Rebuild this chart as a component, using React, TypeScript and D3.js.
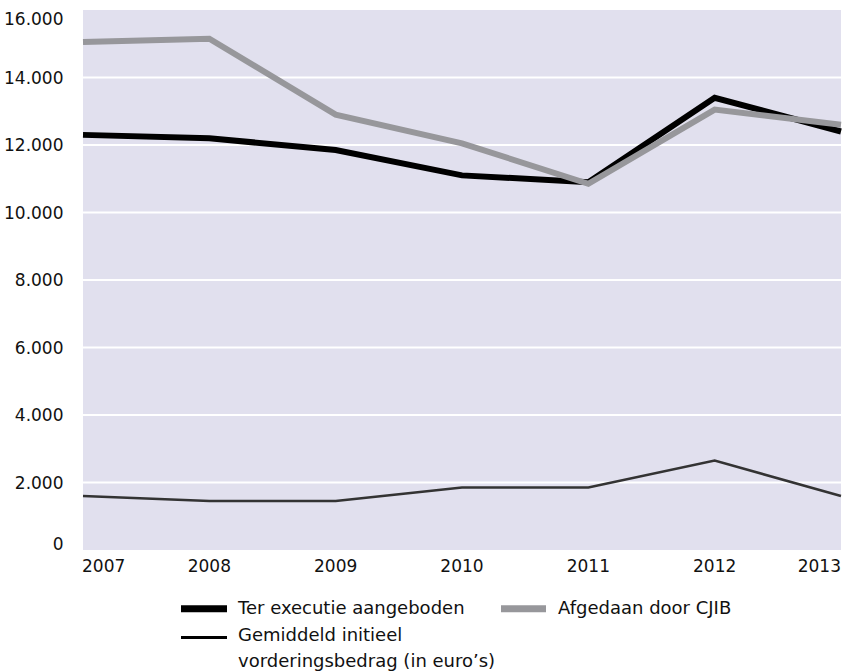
import React from "react";
import * as d3 from "d3";

const years = ["2007", "2008", "2009", "2010", "2011", "2012", "2013"];
const terExecutie = [12300, 12200, 11850, 11100, 10900, 13400, 12400];
const afgedaan = [15050, 15150, 12900, 12050, 10850, 13050, 12600];
const gemiddeld = [1600, 1450, 1450, 1850, 1850, 2650, 1600];
const yTicks = [0, 2000, 4000, 6000, 8000, 10000, 12000, 14000, 16000];

const W = 843;
const H = 672;
const left = 83;
const right = 841;
const top = 10;
const bottom = 550;
const FONT = "'DejaVu Sans', sans-serif";
const FS = 18;
const AXFS = 17;

export default function App() {
  const x = d3.scalePoint<string>().domain(years).range([left, right]);
  const y = d3.scaleLinear().domain([0, 16000]).range([bottom, top]);
  const line = d3
    .line<number>()
    .x((_, i) => x(years[i]) as number)
    .y((d) => y(d));
  const fmt = (v: number) => d3.format(",")(v).replace(/,/g, ".");

  return (
    <svg
      width={W}
      height={H}
      style={{ position: "absolute", left: 0, top: 0, background: "#fff" }}
    >
      <rect x={left} y={top} width={right - left} height={bottom - top} fill="#e1e0ee" />
      {yTicks
        .filter((t) => t > 0 && t < 16000)
        .map((t) => (
          <line key={t} x1={left} x2={right} y1={y(t)} y2={y(t)} stroke="#fff" strokeWidth={2} />
        ))}
      {yTicks.map((t, i) => {
        let yy = y(t) + 6.3;
        if (i === 0) yy = bottom;
        if (i === yTicks.length - 1) yy = 24.5;
        return (
          <text
            key={t}
            x={63.5}
            y={yy}
            textAnchor="end"
            fontFamily={FONT}
            fontSize={AXFS}
            fill="#111"
          >
            {fmt(t)}
          </text>
        );
      })}
      {years.map((yr, i) => {
        const anchor = i === 0 ? "start" : i === years.length - 1 ? "end" : "middle";
        const xx = (x(yr) as number) + (i === 0 ? -1 : 0);
        return (
          <text
            key={yr}
            x={xx}
            y={572}
            textAnchor={anchor}
            fontFamily={FONT}
            fontSize={AXFS}
            fill="#111"
          >
            {yr}
          </text>
        );
      })}
      <path d={line(gemiddeld) || ""} fill="none" stroke="#333" strokeWidth={2.5} />
      <path d={line(terExecutie) || ""} fill="none" stroke="#000" strokeWidth={6} />
      <path d={line(afgedaan) || ""} fill="none" stroke="#97979b" strokeWidth={6} />

      <g fontFamily={FONT} fontSize={FS} fill="#111">
        <line x1={181} x2={227} y1={608.7} y2={608.7} stroke="#000" strokeWidth={7} />
        <text x={238} y={614}>Ter executie aangeboden</text>
        <line x1={501} x2={546} y1={608.7} y2={608.7} stroke="#97979b" strokeWidth={7} />
        <text x={558} y={614}>Afgedaan door CJIB</text>
        <line x1={181} x2={227} y1={637.4} y2={637.4} stroke="#000" strokeWidth={3} />
        <text x={238} y={641}>Gemiddeld initieel</text>
        <text x={238} y={667}>vorderingsbedrag (in euro’s)</text>
      </g>
    </svg>
  );
}
